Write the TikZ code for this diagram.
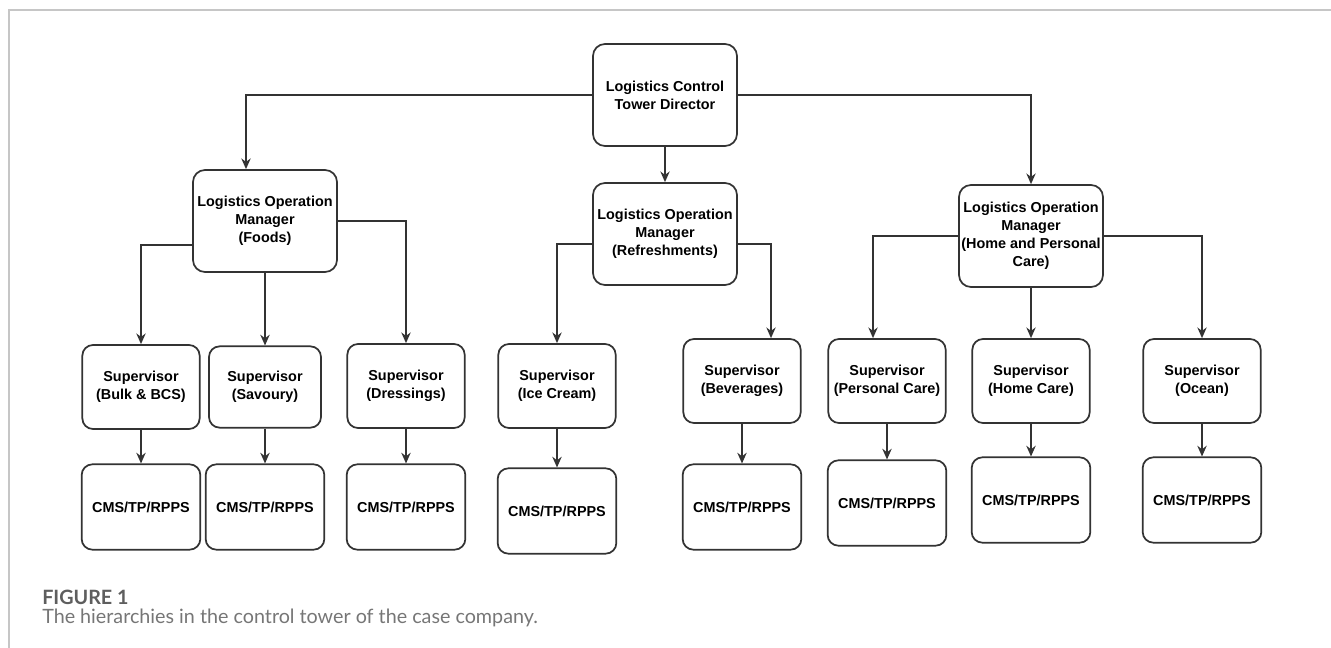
\documentclass[tikz,border=0pt]{standalone}
\usepackage{fontspec}
\setmainfont{Liberation Sans}
\newfontfamily\capfont{Lato}
\usetikzlibrary{arrows.meta}
\definecolor{boxline}{HTML}{333333}
\definecolor{capgray}{HTML}{5E5E5E}
\tikzset{
  box/.style={
    draw=boxline, line width=1.3pt, rounded corners=9pt,
    align=center, inner sep=0pt,
    font=\bfseries\fontsize{10.8}{13.5}\selectfont
  },
  mgr/.style={box, minimum width=108pt, minimum height=76.5pt},
  sup/.style={box, rounded corners=8pt, minimum width=88pt, minimum height=63pt},
  cms/.style={box, rounded corners=8pt, minimum width=89pt, minimum height=64pt},
  link/.style={draw=boxline, line width=1.3pt, -{Stealth[length=8pt, width=7pt]}},
  elbow/.style={link, to path={-| (\tikztotarget)}}
}
\begin{document}
\begin{tikzpicture}[x=0.75pt, y=-0.75pt]
\useasboundingbox (0,0) rectangle (1331,648);
\draw[gray!45, line width=1.1pt] (9,648) -- (9,10) -- (1331,10);

% top and managers
\node[mgr] (dir) at (665,95) {Logistics Control\\Tower Director};
\node[mgr] (foods) at (265,221) {Logistics Operation\\Manager\\(Foods)};
\node[mgr] (refr) at (665,234) {Logistics Operation\\Manager\\(Refreshments)};
\node[mgr] (hpc) at (1031,236) {Logistics Operation\\Manager\\(Home and Personal\\Care)};

% supervisors
\node[sup] (sbulk) at (141,387) {Supervisor\\(Bulk \& BCS)};
\node[sup, minimum width=84pt, minimum height=61pt] (ssav) at (265,387) {Supervisor\\(Savoury)};
\node[sup] (sdress) at (406,386) {Supervisor\\(Dressings)};
\node[sup] (sice) at (557,386) {Supervisor\\(Ice Cream)};
\node[sup] (sbev) at (742,381) {Supervisor\\(Beverages)};
\node[sup] (spc) at (887,381) {Supervisor\\(Personal Care)};
\node[sup] (shc) at (1031,381) {Supervisor\\(Home Care)};
\node[sup] (socean) at (1202,381) {Supervisor\\(Ocean)};

% service providers
\node[cms] (cbulk) at (141,507) {CMS/TP/RPPS};
\node[cms] (csav) at (265,507) {CMS/TP/RPPS};
\node[cms] (cdress) at (406,507) {CMS/TP/RPPS};
\node[cms] (cice) at (557,511) {CMS/TP/RPPS};
\node[cms] (cbev) at (742,507) {CMS/TP/RPPS};
\node[cms] (cpc) at (887,503) {CMS/TP/RPPS};
\node[cms] (chc) at (1031,500) {CMS/TP/RPPS};
\node[cms] (cocean) at (1202,500) {CMS/TP/RPPS};

\path (dir.west)  edge[elbow] ([xshift=-14.25pt]foods.north)
      (dir.south) edge[link]  (refr.north)
      (dir.east)  edge[elbow] (hpc.north)
      ([yshift=-18pt]foods.west) edge[elbow] (sbulk.north)
      (foods.south) edge[link] (ssav.north)
      (foods.east)  edge[elbow] (sdress.north)
      ([yshift=-7.5pt]refr.west) edge[elbow] (sice.north)
      ([yshift=-7.5pt]refr.east) edge[elbow] ([xshift=21.75pt]sbev.north)
      (hpc.west)  edge[elbow] ([xshift=-10.5pt]spc.north)
      (hpc.south) edge[link]  (shc.north)
      (hpc.east)  edge[elbow] (socean.north);

\foreach \n in {bulk,sav,dress,ice,bev,pc,hc,ocean}
  \path (s\n.south) edge[link] (s\n.south |- c\n.north);

% caption
\node[anchor=west, inner sep=0pt, text=capgray, font=\capfont\bfseries\fontsize{14.8}{17}\selectfont] (fig) at (42,597) {FIGURE 1};
\node[anchor=west, inner sep=0pt, text=capgray!85, font=\capfont\fontsize{14.8}{17}\selectfont] (cap) at (42,618) {The hierarchies in the control tower of the case company.};
\end{tikzpicture}
\end{document}
